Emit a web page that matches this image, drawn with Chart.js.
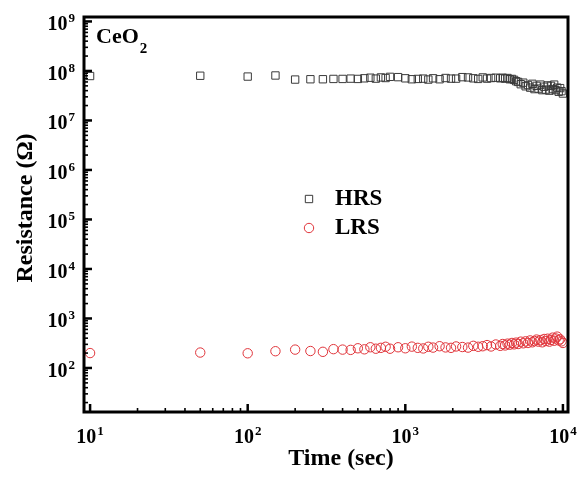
<!DOCTYPE html>
<html>
<head>
<meta charset="utf-8">
<script src="https://cdn.jsdelivr.net/npm/chart.js@4/dist/chart.umd.min.js"></script>
<style>
  html, body { margin: 0; padding: 0; background: #fff; }
  #wrap { width: 580px; height: 479px; position: relative; }
</style>
</head>
<body>
<div id="wrap"><canvas id="c" width="580" height="479"></canvas></div>
<script>
// Measurement times (s)
const timeSec = [10, 50, 100, 150, 200, 250, 300, 350, 400, 450, 500, 550, 600, 650, 700, 750, 800,
  900, 1000, 1100, 1200, 1300, 1400, 1500, 1650, 1800, 1950, 2100,
  2300, 2500, 2700, 2900, 3100, 3300, 3500, 3750,
  4000, 4150, 4300, 4450, 4600, 4750, 4900, 5050, 5200, 5400, 5600, 5800, 6000, 6200, 6400, 6600,
  6800, 7000, 7200, 7400, 7600, 7800, 8000, 8200, 8400, 8600, 8800, 9000, 9200, 9400, 9600, 9800, 10000];

// High resistance state (ohm)
const hrsOhm = [7.9e7, 8.0e7, 7.7e7, 8.1e7, 6.7e7, 6.8e7, 6.8e7, 6.9e7, 6.9e7, 7.0e7, 6.9e7, 7.1e7, 7.3e7, 7.0e7, 7.4e7, 7.2e7, 7.6e7,
  7.5e7, 7.1e7, 6.8e7, 6.9e7, 7.0e7, 6.7e7, 7.1e7, 6.8e7, 7.2e7, 7.0e7, 7.0e7,
  7.5e7, 7.4e7, 7.1e7, 6.9e7, 7.4e7, 7.0e7, 7.2e7, 7.3e7,
  7.1e7, 7.3e7, 7.0e7, 7.2e7, 6.8e7, 6.9e7, 6.6e7, 6.2e7, 6.0e7, 5.4e7, 5.8e7, 4.9e7, 5.2e7, 4.6e7, 5.5e7, 4.3e7,
  5.0e7, 4.4e7, 5.3e7, 4.1e7, 4.8e7, 4.2e7, 5.1e7, 4.0e7, 5.0e7, 4.3e7, 5.3e7, 4.1e7, 4.6e7, 3.8e7, 4.5e7, 3.9e7, 3.5e7];

// Low resistance state (ohm)
const lrsOhm = [200, 205, 198, 218, 235, 220, 212, 240, 235, 232, 250, 238, 262, 245, 255, 268, 245,
  262, 250, 270, 255, 248, 268, 258, 275, 260, 255, 272,
  265, 258, 280, 268, 275, 290, 272, 298,
  280, 305, 285, 310, 295, 320, 300, 325, 305, 340, 315, 345, 320, 360, 330, 350,
  375, 340, 365, 330, 385, 350, 390, 340, 370, 410, 355, 395, 430, 360, 380, 345, 320];

// Decade exponents labelled on each axis
const xExponents = [1, 2, 3, 4];
const yExponents = [2, 3, 4, 5, 6, 7, 8, 9];

const seriesNames = ['HRS', 'LRS'];
const hrsColor = '#3a3a3a';
const lrsColor = '#e0343a';
const SERIF = '"Liberation Serif", "Times New Roman", serif';

const toPoints = (ys) => timeSec.map((t, i) => ({ x: t, y: ys[i] }));

function drawPower(ctx, exp, x, y, align) {
  // "10" with a raised exponent; y is the baseline of "10"
  ctx.textBaseline = 'alphabetic';
  ctx.font = 'bold 20px ' + SERIF;
  const wBase = ctx.measureText('10').width;
  ctx.font = 'bold 13px ' + SERIF;
  const wExp = ctx.measureText(String(exp)).width;
  const total = wBase + 1 + wExp;
  let left = x;
  if (align === 'center') left = x - total / 2;
  else if (align === 'right') left = x - total;
  ctx.textAlign = 'left';
  ctx.font = 'bold 20px ' + SERIF;
  ctx.fillText('10', left, y);
  ctx.font = 'bold 13px ' + SERIF;
  ctx.fillText(String(exp), left + wBase + 1, y - 8);
}

const framePlugin = {
  id: 'frameAndLabels',
  afterDraw(chart) {
    const { ctx, chartArea: a, scales } = chart;
    const xs = scales.x, ys = scales.y;
    ctx.save();
    ctx.fillStyle = '#000';
    ctx.strokeStyle = '#000';

    // inward ticks on the left axis
    for (let d = 1; d <= 9; d++) {
      for (let m = 1; m <= 9; m++) {
        const v = m * Math.pow(10, d);
        if (v < ys.min || v > ys.max) continue;
        const py = ys.getPixelForValue(v);
        ctx.lineWidth = m === 1 ? 2.5 : 1.6;
        ctx.beginPath();
        ctx.moveTo(a.left, py);
        ctx.lineTo(a.left + (m === 1 ? 8 : 4), py);
        ctx.stroke();
      }
    }
    // inward ticks on the bottom axis
    for (let d = 0; d <= 4; d++) {
      for (let m = 1; m <= 9; m++) {
        const v = m * Math.pow(10, d);
        if (v < xs.min || v > xs.max) continue;
        const px = xs.getPixelForValue(v);
        ctx.lineWidth = m === 1 ? 2.5 : 1.6;
        ctx.beginPath();
        ctx.moveTo(px, a.bottom);
        ctx.lineTo(px, a.bottom - (m === 1 ? 8 : 4));
        ctx.stroke();
      }
    }

    // frame
    ctx.lineWidth = 3;
    ctx.strokeRect(a.left, a.top, a.right - a.left, a.bottom - a.top);

    // tick labels
    yExponents.forEach((e) => {
      const py = ys.getPixelForValue(Math.pow(10, e));
      drawPower(ctx, e, a.left - 9, py + 9, 'right');
    });
    xExponents.forEach((e) => {
      const px = xs.getPixelForValue(Math.pow(10, e));
      drawPower(ctx, e, px, 443, 'center');
    });

    // axis titles
    ctx.font = 'bold 24px ' + SERIF;
    ctx.textAlign = 'center';
    ctx.textBaseline = 'alphabetic';
    ctx.fillText('Time (sec)', 341, 465);
    ctx.save();
    ctx.translate(32, 208);
    ctx.rotate(-Math.PI / 2);
    ctx.fillText('Resistance (\u03A9)', 0, 0);
    ctx.restore();

    // material label
    ctx.textAlign = 'left';
    ctx.font = 'bold 22px ' + SERIF;
    ctx.fillText('CeO', 96, 43);
    const wCeO = ctx.measureText('CeO').width;
    ctx.font = 'bold 15px ' + SERIF;
    ctx.fillText('2', 96 + wCeO + 1, 53);

    // legend
    const ds = chart.data.datasets;
    const legendY = [199, 228];
    ds.forEach((d, i) => {
      ctx.save();
      ctx.lineWidth = d.borderWidth;
      ctx.strokeStyle = d.borderColor;
      ctx.fillStyle = 'rgba(0,0,0,0)';
      Chart.helpers.drawPoint(ctx, { pointStyle: d.pointStyle, radius: d.pointRadius, borderWidth: d.borderWidth, rotation: 0 }, 309, legendY[i]);
      ctx.restore();
      ctx.font = 'bold 23px ' + SERIF;
      ctx.fillStyle = '#000';
      ctx.textAlign = 'left';
      ctx.fillText(d.label, 335, legendY[i] + 6);
    });
    ctx.restore();
  }
};

new Chart(document.getElementById('c'), {
  type: 'scatter',
  data: {
    datasets: [
      {
        label: seriesNames[0],
        data: toPoints(hrsOhm),
        pointStyle: 'rect',
        pointRadius: 5.2,
        borderWidth: 1,
        borderColor: hrsColor,
        backgroundColor: 'rgba(0,0,0,0)'
      },
      {
        label: seriesNames[1],
        data: toPoints(lrsOhm),
        pointStyle: 'circle',
        pointRadius: 4.7,
        borderWidth: 1,
        borderColor: lrsColor,
        backgroundColor: 'rgba(0,0,0,0)'
      }
    ]
  },
  options: {
    responsive: false,
    animation: false,
    devicePixelRatio: 1,
    clip: false,
    layout: { padding: { top: 17, right: 12, left: 0, bottom: 0 } },
    plugins: { legend: { display: false }, tooltip: { enabled: false } },
    scales: {
      x: {
        type: 'logarithmic',
        min: 9.15,
        max: 10770,
        bounds: 'data',
        grid: { display: false, drawTicks: false },
        border: { display: false },
        ticks: { display: false },
        afterFit: (s) => { s.height = 67; }
      },
      y: {
        type: 'logarithmic',
        min: 12.9,
        max: 1.23e9,
        bounds: 'data',
        grid: { display: false, drawTicks: false },
        border: { display: false },
        ticks: { display: false },
        afterFit: (s) => { s.width = 84; }
      }
    }
  },
  plugins: [framePlugin]
});
</script>
</body>
</html>
